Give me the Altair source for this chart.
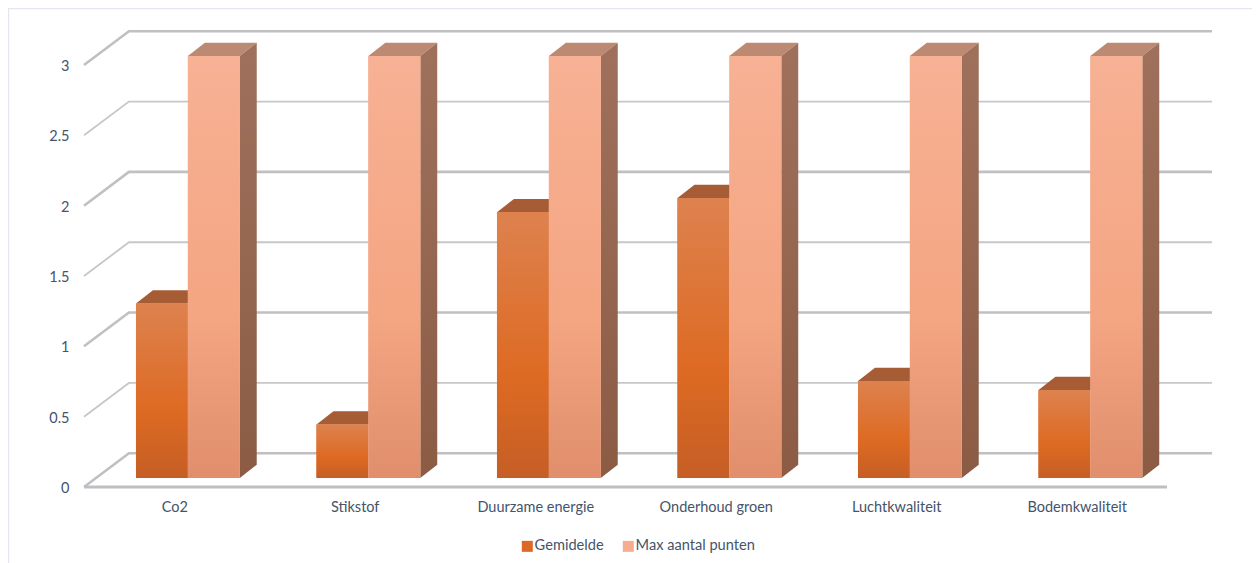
import altair as alt
import pandas as pd

categories = ["Co2", "Stikstof", "Duurzame energie", "Onderhoud groen", "Luchtkwaliteit", "Bodemkwaliteit"]
gemiddelde = [1.24, 0.38, 1.89, 1.99, 0.69, 0.625]
max_punten = [3, 3, 3, 3, 3, 3]
series_names = ["Gemidelde", "Max aantal punten"]
y_ticks = [0, 0.5, 1, 1.5, 2, 2.5, 3]

# 3D projection, in data units (1 x unit = one category, 1 y unit = one score point)
WALL_DX, WALL_DY = 0.249, 0.240
BAR_DX, BAR_DY = 0.094, 0.094
BAR_LIFT = 0.064
BAR_START, BAR_W = 0.288, 0.2875
FONT, TXT = "Lato", "#44546a"

xs = alt.Scale(domain=[0, 6], nice=False, zero=False)
ys = alt.Scale(domain=[0, 3], nice=False, zero=False)


def X(f, **k):
    return alt.X(f, type="quantitative", scale=xs, axis=None, **k)


def Y(f, **k):
    return alt.Y(f, type="quantitative", scale=ys, axis=None, **k)


def grad(stops):
    return alt.LinearGradient(
        gradient="linear", x1=0, x2=0, y1=0, y2=1,
        stops=[alt.GradientStop(offset=o, color=c) for o, c in stops],
    )


# wall + floor gridlines
grid_rows = []
for v in y_ticks:
    pts = [(0, v), (WALL_DX, v + WALL_DY), (6 + WALL_DX, v + WALL_DY)]
    for i, (px, py) in enumerate(pts):
        grid_rows.append({"level": v, "o": i, "px": px, "py": py, "major": float(v).is_integer()})
grid_df = pd.DataFrame(grid_rows)
floor_df = pd.DataFrame({"px": [0, 6], "py": [0, 0]})


def grid_layer(df, color, w):
    return alt.Chart(df).mark_line(color=color, strokeWidth=w, clip=False).encode(
        x=X("px"), y=Y("py"), detail="level:N", order="o:Q"
    )


grid_minor = grid_layer(grid_df[~grid_df.major], "#c6c7cb", 1.8)
grid_major = grid_layer(grid_df[grid_df.major], "#c0c0c4", 2.6)
floor = alt.Chart(floor_df).mark_line(color="#bfbfc3", strokeWidth=3, clip=False).encode(x=X("px"), y=Y("py"))

# bars
bar_rows = []
for s, (name, vals) in enumerate(zip(series_names, [gemiddelde, max_punten])):
    for i, (cat, v) in enumerate(zip(categories, vals)):
        l = i + BAR_START + s * BAR_W
        bar_rows.append({"series": name, "cat": cat, "l": l, "r": l + BAR_W,
                         "base": BAR_LIFT, "top": BAR_LIFT + v})
bars = pd.DataFrame(bar_rows)

side_rows, top_rows = [], []
for _, b in bars.iterrows():
    for k in (0, 1):
        side_rows.append({"series": b.series, "cat": b["cat"], "px": b.r + k * BAR_DX,
                          "lo": b.base + k * BAR_DY, "hi": b.top + k * BAR_DY})
        top_rows.append({"series": b.series, "cat": b["cat"], "py": b.top + k * BAR_DY,
                         "a": b.l + k * BAR_DX, "b": b.r + k * BAR_DX})
sides = pd.DataFrame(side_rows)
tops = pd.DataFrame(top_rows)


def top_layer(name, color):
    return alt.Chart(tops[tops.series == name]).mark_area(color=color, orient="horizontal", clip=False).encode(
        y=Y("py"), x=X("a"), x2="b", detail="cat:N"
    )


def side_layer(name, fill):
    return alt.Chart(sides[sides.series == name]).mark_area(color=fill, orient="vertical", clip=False).encode(
        x=X("px"), y=Y("lo"), y2="hi", detail="cat:N"
    )


def front_solid(name):
    return alt.Chart(bars[bars.series == name]).mark_rect(clip=False).encode(
        x=X("l"), x2="r", y=Y("base"), y2="top",
        color=alt.Color("series:N", scale=alt.Scale(domain=series_names, range=["#dc6a26", "#f6ac8e"]),
                        legend=alt.Legend(
                            title=None, orient="none", direction="horizontal", legendX=436, legendY=474,
                            symbolType="square", symbolSize=121, symbolStrokeWidth=0, symbolOpacity=1,
                            labelFont=FONT, labelFontSize=14.6, labelColor=TXT, labelOffset=0, columnPadding=17,
                        )),
    )


def front_grad(name, fill):
    return alt.Chart(bars[bars.series == name]).mark_rect(fill=fill, clip=False).encode(
        x=X("l"), x2="r", y=Y("base"), y2="top"
    )


orange = grad([(0, "#dd824f"), (0.62, "#dd6a22"), (1, "#c55e26")])
peach = grad([(0, "#f7b194"), (0.62, "#f4a582"), (1, "#e08e6c")])
side_fill = grad([(0, "#9f715c"), (1, "#8b5b44")])

# real axes, carried by an invisible layer
axes = alt.Chart(pd.DataFrame({"a": [0.0], "b": [0.0]})).mark_point(opacity=0).encode(
    x=alt.X("a:Q", scale=xs, title=None, axis=alt.Axis(
        values=[i + 0.5 for i in range(len(categories))],
        labelExpr="%s[floor(datum.value)]" % str(categories),
        domain=False, ticks=False, grid=False, labelFont=FONT, labelFontSize=14.5,
        labelColor=TXT, labelPadding=13, labelAngle=0, labelOverlap=False)),
    y=alt.Y("b:Q", scale=ys, title=None, axis=alt.Axis(
        values=y_ticks, format="~g", domain=False, ticks=False, grid=False,
        labelFont=FONT, labelFontSize=14.5, labelColor=TXT, labelPadding=15, labelOffset=1.5)),
)

# chart frame: only its left and top edges show
one = pd.DataFrame({"a": [0]})
frame_left = alt.Chart(one).mark_rule(color="#e3e7f1", strokeWidth=1.5, clip=False).encode(
    x=alt.value(-75.5), y=alt.value(-57), y2=alt.value(498))
frame_top = alt.Chart(one).mark_rule(color="#e3e7f1", strokeWidth=1.5, clip=False).encode(
    y=alt.value(-56.5), x=alt.value(-76), x2=alt.value(1168))

A, B = series_names
chart = alt.layer(
    frame_left, frame_top, axes, grid_minor, grid_major, floor,
    top_layer(A, "#a65d36"),
    front_solid(A), front_grad(A, orange),
    top_layer(B, "#bc8a72"),
    side_layer(B, side_fill),
    front_solid(B), front_grad(B, peach),
).resolve_axis(x="independent", y="independent").properties(
    width=1083, height=422,
    padding={"left": 76, "top": 57, "right": 85, "bottom": 76},
    autosize=alt.AutoSizeParams(type="none"),
    background="white",
).configure_view(stroke=None)

chart.save("out.html", embed_options={"renderer": "svg", "actions": False})
